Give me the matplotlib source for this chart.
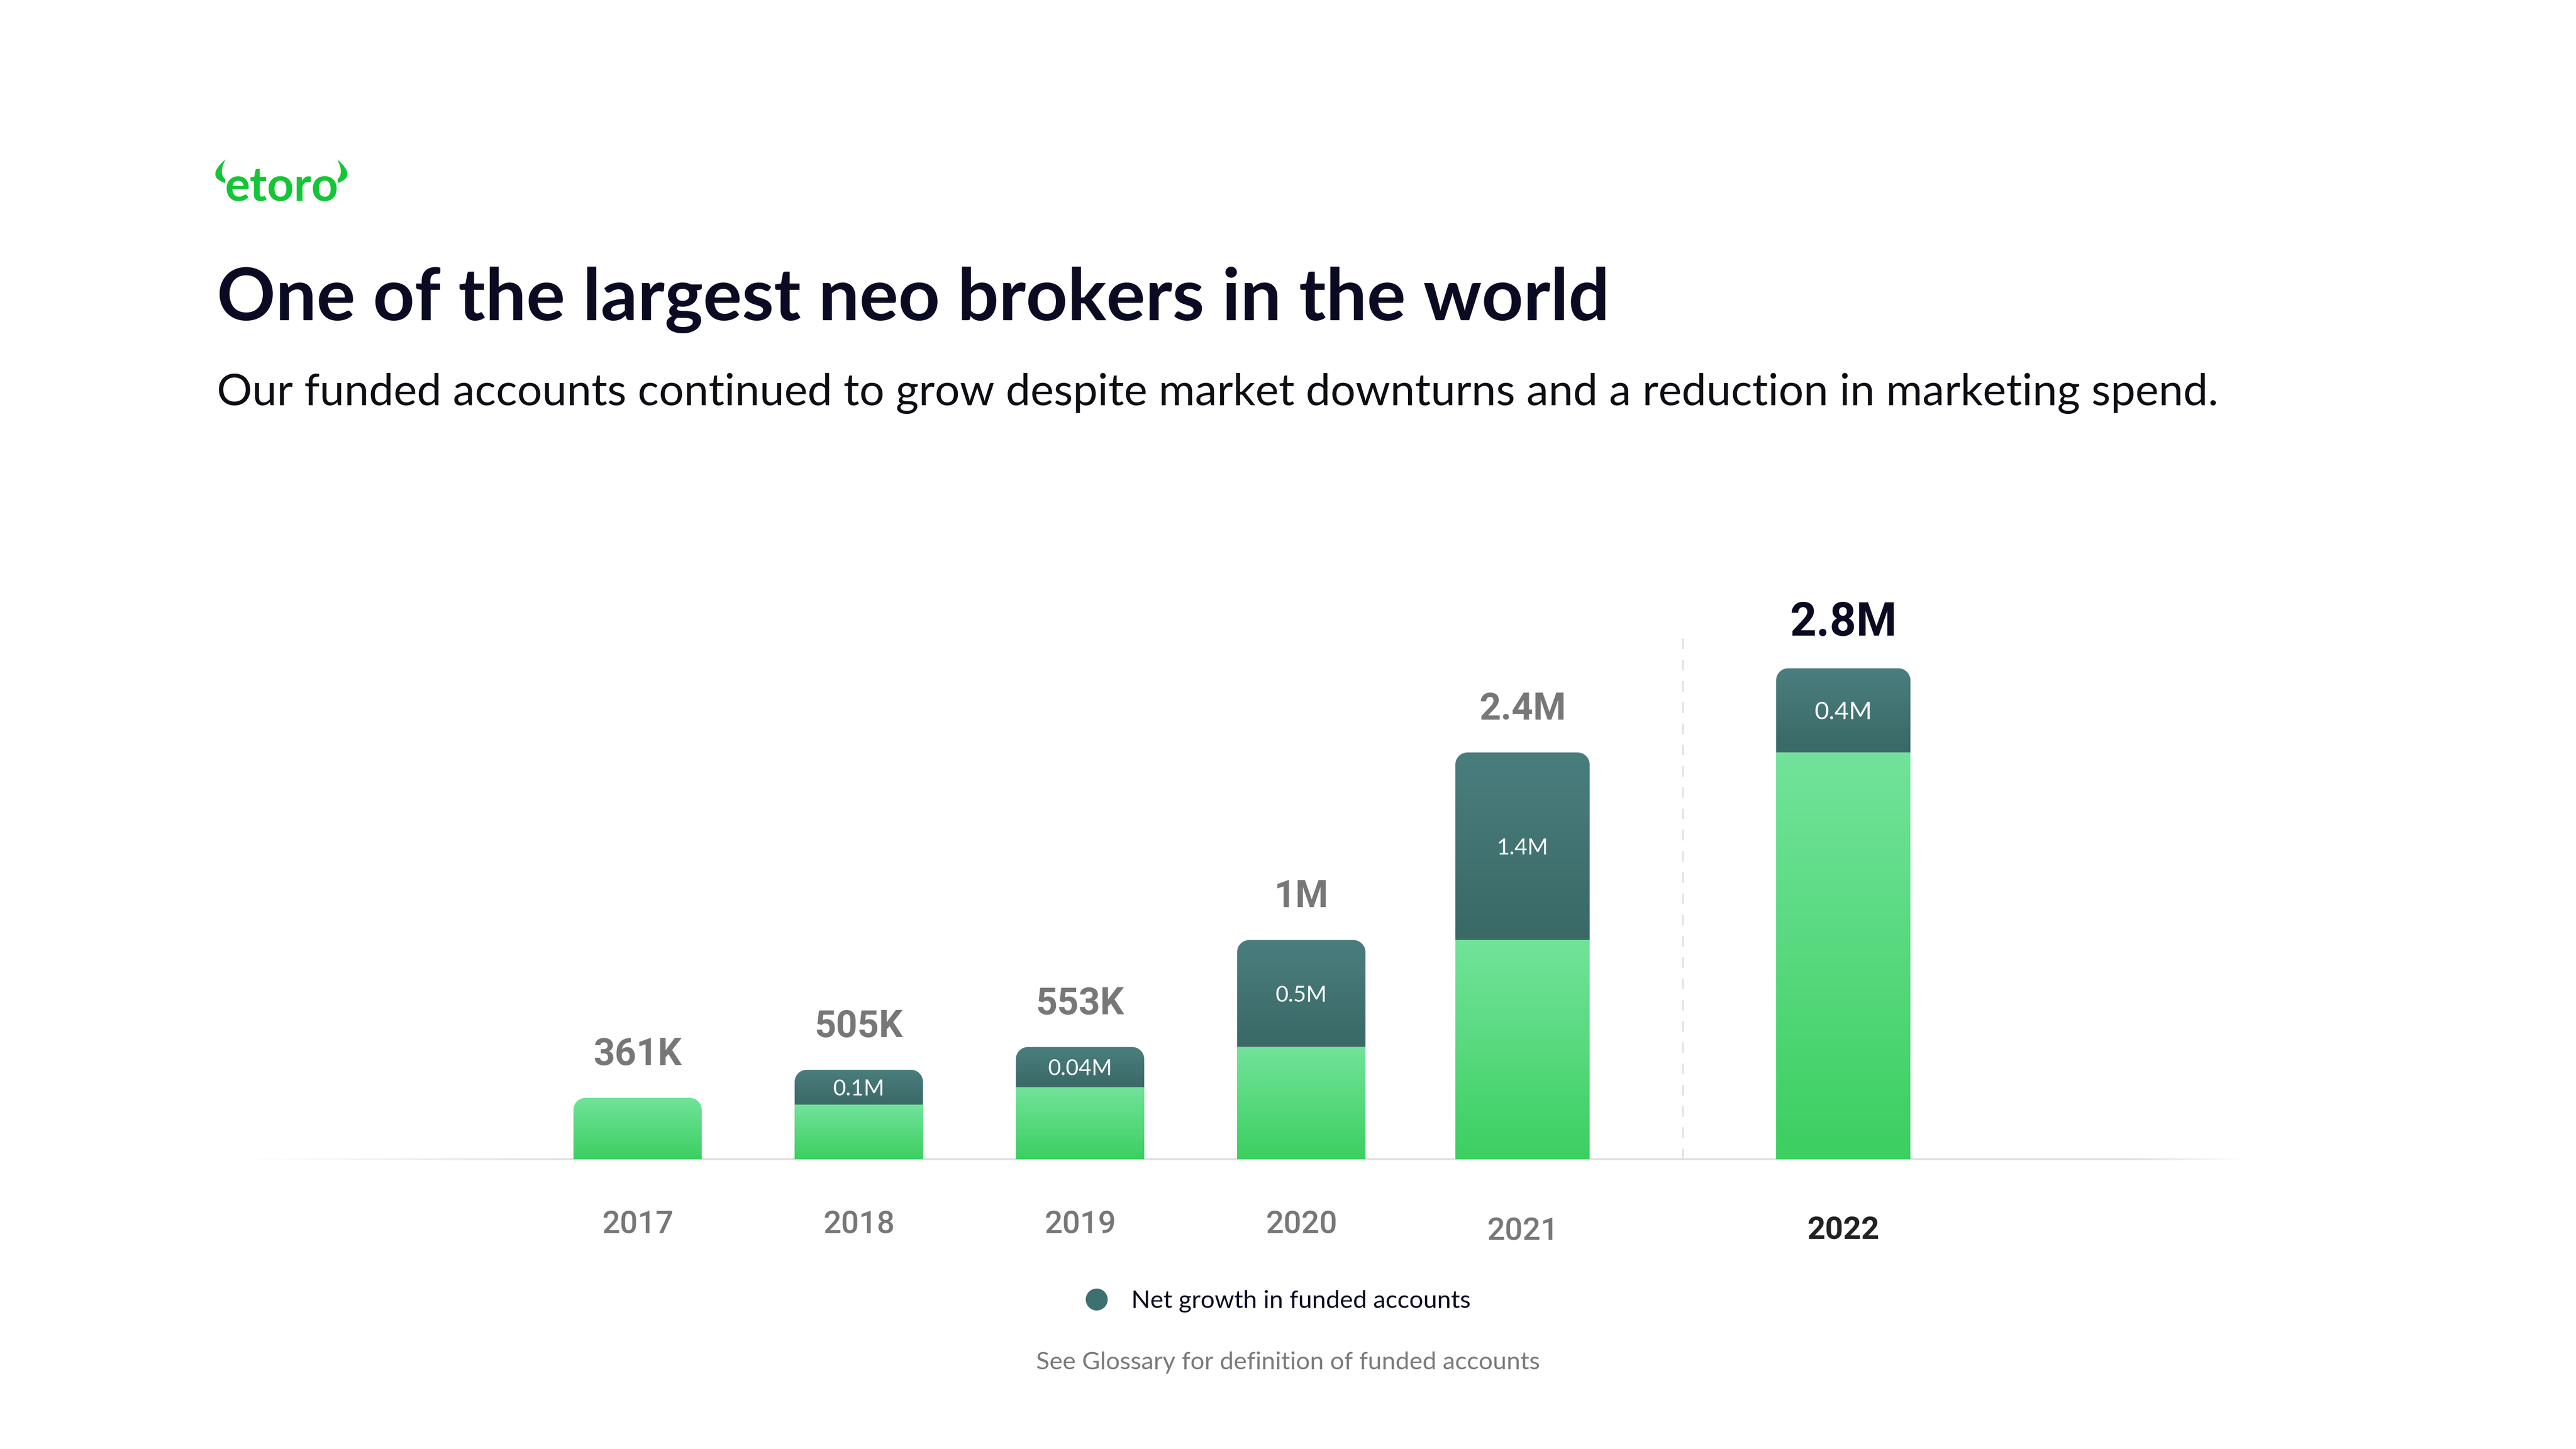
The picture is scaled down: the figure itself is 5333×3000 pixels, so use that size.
import numpy as np
import matplotlib
matplotlib.use("Agg")
import matplotlib.pyplot as plt
from matplotlib.path import Path
from matplotlib.patches import PathPatch
from matplotlib.colors import LinearSegmentedColormap
from matplotlib.lines import Line2D
from matplotlib.collections import LineCollection

# values as drawn in the chart (millions, bar heights)
years = ["2017", "2018", "2019", "2020", "2021", "2022"]
base_m = [0.35, 0.31, 0.41, 0.64, 1.25, 2.32]
growth_m = [0.0, 0.20, 0.23, 0.61, 1.07, 0.48]
total_labels = ["361K", "505K", "553K", "1M", "2.4M", "2.8M"]
growth_labels = ["", "0.1M", "0.04M", "0.5M", "1.4M", "0.4M"]

W, H, DPI = 5333, 3000, 100
PT = 72 / DPI  # points per pixel

NAVY = "#0a0a23"
GREY = "#777777"
GREEN_TOP, GREEN_BOT = "#72e39a", "#3ccf61"
TEAL_TOP, TEAL_BOT = "#4a7e7e", "#3a6966"

fig = plt.figure(figsize=(W / DPI, H / DPI), dpi=DPI)
fig.patch.set_facecolor("white")

# axes bottom edge is the baseline of the bars
base_px = 600
ax = fig.add_axes([0, base_px / H, 1, 1 - base_px / H])
x_unit, x_origin = 458, 1320
y_unit = 363
ax.set_xlim(-x_origin / x_unit, (W - x_origin) / x_unit)
ax.set_ylim(0, (H - base_px) / y_unit)
for s in ax.spines.values():
    s.set_visible(False)
ax.tick_params(left=False, labelleft=False)

positions = [0, 1, 2, 3, 4, 5.45]
widths = [0.58, 0.58, 0.58, 0.58, 0.607, 0.607]
rx, ry = 25 / x_unit, 25 / y_unit
K = 0.5523


def rect_path(x0, x1, y0, y1):
    return Path([(x0, y0), (x1, y0), (x1, y1), (x0, y1), (x0, y0)],
                [Path.MOVETO, Path.LINETO, Path.LINETO, Path.LINETO, Path.CLOSEPOLY])


def top_rounded_path(x0, x1, y0, y1):
    verts = [(x0, y0), (x0, y1 - ry),
             (x0, y1 - ry + K * ry), (x0 + rx - K * rx, y1), (x0 + rx, y1),
             (x1 - rx, y1),
             (x1 - rx + K * rx, y1), (x1, y1 - ry + K * ry), (x1, y1 - ry),
             (x1, y0), (x0, y0)]
    codes = [Path.MOVETO, Path.LINETO,
             Path.CURVE4, Path.CURVE4, Path.CURVE4,
             Path.LINETO,
             Path.CURVE4, Path.CURVE4, Path.CURVE4,
             Path.LINETO, Path.CLOSEPOLY]
    return Path(verts, codes)


def gradient_fill(path, x0, x1, y0, y1, top, bottom):
    cmap = LinearSegmentedColormap.from_list("seg", [bottom, top])
    patch = PathPatch(path, facecolor="none", edgecolor="none")
    ax.add_patch(patch)
    im = ax.imshow(np.linspace(0, 1, 256).reshape(-1, 1), cmap=cmap, origin="lower",
                   extent=[x0, x1, y0, y1], aspect="auto", interpolation="bilinear", zorder=3)
    im.set_clip_path(patch)


# baseline, fading in from the left
xs = (np.linspace(513, 4650, 300) - x_origin) / x_unit
segs = [[(xs[i], 0), (xs[i + 1], 0)] for i in range(len(xs) - 1)]
xm = (xs[:-1] + xs[1:]) / 2
fade = np.clip((xm - xs[0]) / (700 / x_unit), 0, 1) * np.clip((xs[-1] - xm) / (250 / x_unit), 0, 1)
cols = [(0.87, 0.87, 0.87, a) for a in fade]
ax.add_collection(LineCollection(segs, colors=cols, linewidths=4 * PT, clip_on=False, zorder=1))

# dashed divider before the latest year
ax.vlines((positions[4] + positions[5]) / 2, 0, 2.99, colors="#e2e2e2",
          linewidth=4 * PT, linestyles=(0, (5.5, 5.5)), zorder=1)

last = len(years) - 1
for i in range(len(years)):
    xc, w = positions[i], widths[i]
    x0, x1 = xc - w / 2, xc + w / 2
    b, g = base_m[i], growth_m[i]
    if g > 0:
        gradient_fill(rect_path(x0, x1, 0, b), x0, x1, 0, b, GREEN_TOP, GREEN_BOT)
        gradient_fill(top_rounded_path(x0, x1, b, b + g), x0, x1, b, b + g, TEAL_TOP, TEAL_BOT)
        ax.text(xc, b + g / 2, growth_labels[i], ha="center", va="center_baseline",
                color="white", family="Lato", fontsize=37 if i == last else 33, zorder=5)
    else:
        gradient_fill(top_rounded_path(x0, x1, 0, b), x0, x1, 0, b, GREEN_TOP, GREEN_BOT)
    ax.annotate(total_labels[i], (xc, b + g), xytext=(0, 68 * PT), textcoords="offset points",
                ha="center", va="baseline", family=["Liberation Sans Narrow", "Roboto"],
                fontweight="bold", fontsize=69 if i == last else 56,
                color=NAVY if i == last else GREY)

ax.set_xticks(positions, years)
ax.tick_params(axis="x", length=0, pad=104 * PT, labelsize=47, labelcolor=GREY)
for i, (tick, lbl) in enumerate(zip(ax.xaxis.get_major_ticks(), ax.get_xticklabels())):
    lbl.set_fontfamily("Roboto")
    lbl.set_fontweight("bold" if i == last else "medium")
    if i >= 4:
        tick.set_pad(118 * PT)
    if i == last:
        lbl.set_color("#222222")

renderer = fig.canvas.get_renderer()


def fit_width(t, width_px):
    bb = t.get_window_extent(renderer=renderer)
    t.set_fontsize(t.get_fontsize() * width_px / bb.width)


# logo
logo = fig.text(466 / W, 1 - 415 / H, "etoro", family="Lato", fontweight="bold",
                color="#13c636", fontsize=60, va="baseline", ha="left")
fit_width(logo, 235)
for flip in (False, True):
    pts = [(467, 330), (425, 365), (466, 379), (466, 371), (452, 358), (467, 330), (467, 330)]
    if flip:
        pts = [(1165 - x, y) for x, y in pts]
    pts = [(x / W, 1 - y / H) for x, y in pts]
    horn = Path(pts, [Path.MOVETO, Path.CURVE3, Path.CURVE3, Path.LINETO,
                      Path.CURVE3, Path.CURVE3, Path.CLOSEPOLY])
    fig.patches.append(PathPatch(horn, transform=fig.transFigure, facecolor="#13c636",
                                 edgecolor="none"))

title = fig.text(449 / W, 1 - 663 / H, "One of the largest neo brokers in the world",
                 family="Lato", fontweight="bold", color=NAVY, fontsize=109, va="baseline")
fit_width(title, 2885)
sub = fig.text(449 / W, 1 - 839 / H,
               "Our funded accounts continued to grow despite market downturns and a reduction in marketing spend.",
               family="Lato", fontweight="normal", color="#0d0d14", fontsize=70, va="baseline")
fit_width(sub, 4143)

handle = Line2D([], [], marker="o", ls="", color="#3d7070", markersize=44 * PT)
leg = ax.legend([handle], ["Net growth in funded accounts"], loc="center",
                bbox_to_anchor=(2644 / W, 1 - 2694 / H), bbox_transform=fig.transFigure,
                frameon=False, handlelength=1, handletextpad=0.9, labelcolor=NAVY,
                prop={"family": "Lato", "size": 37})

note = fig.text(0.5, 1 - 2835 / H, "See Glossary for definition of funded accounts",
                family="Lato", color="#7a7a7a", fontsize=37, ha="center", va="baseline")
fit_width(note, 1043)

fig.savefig("out.png", dpi=DPI, facecolor="white")
